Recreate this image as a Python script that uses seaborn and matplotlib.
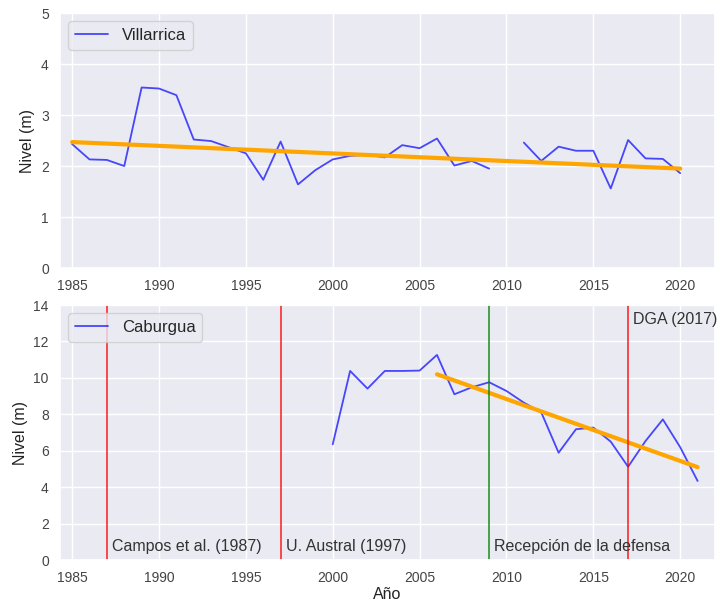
import numpy as np
import pandas as pd
import matplotlib
matplotlib.use("Agg")
import matplotlib.pyplot as plt
import seaborn as sns

# Annual lake levels (m)
villarrica_years = list(range(1985, 2021))
villarrica_level = [2.43, 2.13, 2.12, 2.00, 3.54, 3.52, 3.39, 2.52, 2.49, 2.37,
                    2.25, 1.73, 2.48, 1.64, 1.92, 2.13, 2.20, 2.22, 2.17, 2.41,
                    2.35, 2.54, 2.01, 2.10, 1.95, np.nan, 2.46, 2.10, 2.38, 2.30,
                    2.30, 1.56, 2.51, 2.15, 2.14, 1.86]
# Linear trend of Villarrica (level at first and last year)
villarrica_trend_years = [1985, 2020]
villarrica_trend_level = [2.47, 1.95]

caburgua_years = list(range(2000, 2022))
caburgua_level = [6.35, 10.38, 9.41, 10.38, 10.38, 10.40, 11.26, 9.10, 9.48, 9.76,
                  9.28, 8.64, 8.11, 5.89, 7.18, 7.27, 6.50, 5.12, 6.53, 7.72,
                  6.19, 4.34]
caburgua_trend_start = 2006

# Reference studies marked on the Caburgua panel
event_years = [1987, 1997, 2009, 2017]
event_labels = ["Campos et al. (1987)", "U. Austral (1997)",
                "Recepción de la defensa", "DGA (2017)"]
event_colors = ["red", "red", "green", "red"]

sns.set_theme(style="darkgrid")
plt.rcParams["font.family"] = ["Liberation Sans", "DejaVu Sans"]

df_v = pd.DataFrame({"Año": villarrica_years, "Nivel": villarrica_level})
# split the series at missing years so the gap stays open
df_v["tramo"] = df_v["Nivel"].isna().cumsum()
df_v = df_v.dropna()
df_c = pd.DataFrame({"Año": caburgua_years, "Nivel": caburgua_level})

fig = plt.figure(figsize=(7.19, 6.01), dpi=100)
ax1 = fig.add_axes([0.0834, 0.554, 0.911, 0.4243])
ax2 = fig.add_axes([0.0834, 0.0682, 0.911, 0.4243])

# Villarrica
sns.lineplot(data=df_v, x="Año", y="Nivel", units="tramo", estimator=None,
             ax=ax1, color="blue", alpha=0.7, linewidth=1.3)
ax1.plot(villarrica_trend_years, villarrica_trend_level, color="orange", linewidth=3)
ax1.legend(handles=[ax1.lines[0]], labels=["Villarrica"], loc="upper left",
           fontsize=12, handlelength=2.0)

# Caburgua
sns.lineplot(data=df_c, x="Año", y="Nivel", ax=ax2, color="blue", alpha=0.7,
             linewidth=1.3, label="Caburgua")
c_sub = df_c[df_c["Año"] >= caburgua_trend_start]
pc = np.polyfit(c_sub["Año"], c_sub["Nivel"], 1)
xc = np.array([c_sub["Año"].min(), c_sub["Año"].max()])
ax2.plot(xc, np.polyval(pc, xc), color="orange", linewidth=3)
ax2.legend(loc="upper left", fontsize=12, handlelength=2.0)

for yr, lab, col in zip(event_years, event_labels, event_colors):
    ax2.axvline(yr, color=col, alpha=0.75, linewidth=1.3)
    ypos = 13.2 if yr == 2017 else 0.75
    ax2.text(yr + 0.3, ypos, lab, fontsize=11.5, color="#333333",
             va="center", ha="left")

for ax in (ax1, ax2):
    ax.set_xlim(1984.3, 2022.0)
    ax.set_xticks(range(1985, 2021, 5))
    ax.tick_params(labelsize=10, colors="#444444", pad=2)
    ax.set_ylabel("Nivel (m)", fontsize=11.5, color="#222222")

ax1.set_ylim(0, 5)
ax1.set_xlabel("")
ax2.set_ylim(0, 14)
ax2.set_yticks(range(0, 15, 2))
ax2.set_xlabel("Año", fontsize=11.5, color="#222222", labelpad=1)

fig.savefig("out.png", dpi=100)
